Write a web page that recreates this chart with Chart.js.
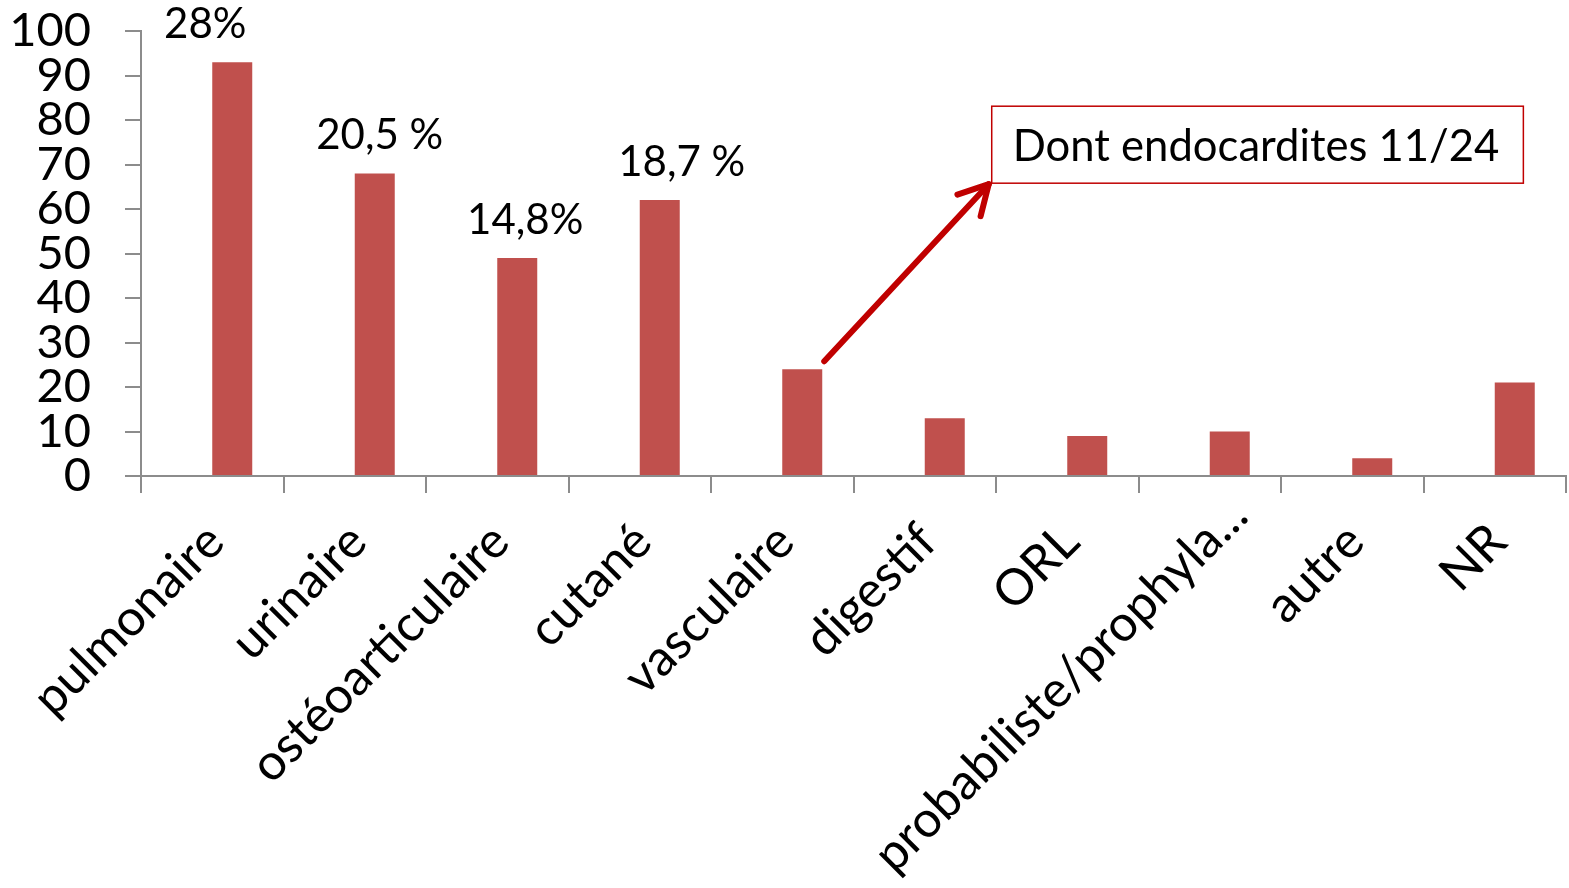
<!DOCTYPE html>
<html>
<head>
<meta charset="utf-8">
<script src="https://cdn.jsdelivr.net/npm/chart.js@4"></script>
<style>
  html, body { margin: 0; padding: 0; background: #fff; }
  #wrap { width: 1569px; height: 888px; }
</style>
</head>
<body>
<div id="wrap"><canvas id="sitesChart"></canvas></div>
<script>
// sites d'infection et effectifs
const sites = ['pulmonaire', 'urinaire', 'ostéoarticulaire', 'cutané', 'vasculaire', 'digestif', 'ORL', 'probabiliste/prophyla...', 'autre', 'NR']
const effectifs = [93, 68, 49, 62, 24, 13, 9, 10, 4, 21]
const pourcentages = ['28%', '20,5 %', '14,8%', '18,7 %', null, null, null, null, null, null]
const calloutText = 'Dont endocardites 11/24'

const FONT = 'Lato, "Open Sans", sans-serif'
const AXIS = '#8c8c8c'
const BAR = '#C0504D'
const ARROW = '#C00000'

// étiquettes de catégories inclinées à 45° (la longue est décalée le long de son axe)
const siteLabels = {
    id: 'siteLabels',
    afterDraw(chart, args, opts) {
        const { ctx, scales: { x } } = chart
        ctx.save()
        ctx.font = opts.size + 'px ' + FONT
        ctx.fillStyle = '#000'
        ctx.textAlign = 'right'
        ctx.textBaseline = 'middle'
        sites.forEach((txt, i) => {
            ctx.save()
            ctx.translate(x.getPixelForTick(i) + opts.dx, x.top + opts.offset)
            ctx.rotate(-Math.PI / 4)
            ctx.fillText(txt, opts.nudge[i] || 0, opts.size * 0.6)
            ctx.restore()
        })
        ctx.restore()
    }
}

// pourcentages au-dessus des barres
const barLabels = {
    id: 'barLabels',
    afterDatasetsDraw(chart, args, opts) {
        const meta = chart.getDatasetMeta(1)
        const ctx = chart.ctx
        ctx.save()
        ctx.font = opts.size + 'px ' + FONT
        ctx.fillStyle = '#000'
        ctx.textAlign = 'center'
        ctx.textBaseline = 'alphabetic'
        pourcentages.forEach((txt, i) => {
            if (!txt) return
            const bar = meta.data[i]
            ctx.fillText(txt, bar.x + opts.shift[i], bar.y - opts.gap)
        })
        ctx.restore()
    }
}

// encadré + flèche depuis la barre vasculaire
const callout = {
    id: 'callout',
    afterDraw(chart, args, opts) {
        const { ctx, scales: { x, y } } = chart
        const bar = chart.getDatasetMeta(1).data[opts.from]
        ctx.save()
        ctx.font = opts.size + 'px ' + FONT
        const w = ctx.measureText(calloutText).width
        const left = x.getPixelForValue(opts.x)
        const bottom = y.getPixelForValue(opts.yBottom)
        const top = y.getPixelForValue(opts.yTop)
        const right = left + w + opts.padL + opts.padR

        ctx.fillStyle = '#fff'
        ctx.fillRect(left, top, right - left, bottom - top)
        ctx.strokeStyle = ARROW
        ctx.lineWidth = 1.5
        ctx.strokeRect(left, top, right - left, bottom - top)

        ctx.fillStyle = '#000'
        ctx.textAlign = 'left'
        ctx.textBaseline = 'middle'
        ctx.fillText(calloutText, left + opts.padL, (top + bottom) / 2 + 2)

        // flèche
        const sx = bar.x + bar.width / 2 + 2, sy = bar.y - 8
        const ex = left - 3, ey = bottom + 1
        const ang = Math.atan2(ey - sy, ex - sx)
        ctx.strokeStyle = ARROW
        ctx.lineWidth = 6
        ctx.lineCap = 'round'
        ctx.lineJoin = 'round'
        ctx.beginPath()
        ctx.moveTo(sx, sy)
        ctx.lineTo(ex, ey)
        ctx.stroke()
        ctx.beginPath()
        ctx.moveTo(ex - 33 * Math.cos(ang - 0.5), ey - 33 * Math.sin(ang - 0.5))
        ctx.lineTo(ex, ey)
        ctx.lineTo(ex - 33 * Math.cos(ang + 0.5), ey - 33 * Math.sin(ang + 0.5))
        ctx.stroke()
        ctx.restore()
    }
}

const renderSitesChart = () => {
    const data = {
        labels: sites,
        datasets: [
            // série vide : la série affichée occupe la deuxième place du groupe
            { data: [], backgroundColor: BAR },
            { data: effectifs, backgroundColor: BAR, borderWidth: 0 }
        ]
    }

    const options = {
        responsive: true,
        maintainAspectRatio: false,
        animation: false,
        layout: { padding: 0 },
        datasets: { bar: { categoryPercentage: 0.5614, barPercentage: 1 } },
        plugins: {
            legend: { display: false },
            tooltip: { enabled: false },
            siteLabels: { size: 50, dx: -18, offset: 36, nudge: [0, 0, 0, 0, 0, 0, 0, 37, 0, 0] },
            barLabels: { size: 42, gap: 24, shift: [-27, 5, 8, 22] },
            callout: { from: 4, x: 5.47, yBottom: 65.8, yTop: 83.1, padL: 21, padR: 24, size: 43.6 }
        },
        scales: {
            x: {
                grid: { offset: true, drawOnChartArea: false, tickLength: 17, color: AXIS, lineWidth: 2 },
                border: { display: true, color: AXIS, width: 2 },
                ticks: { display: false },
                // zone de tracé fixe : les étiquettes inclinées débordent à gauche
                afterFit: (s) => {
                    s.height = 412
                    s.paddingLeft = 0
                    s.paddingRight = 3
                }
            },
            y: {
                min: 0, max: 100,
                grid: { drawOnChartArea: false, tickLength: 16, color: AXIS, lineWidth: 2 },
                border: { display: true, color: AXIS, width: 2 },
                ticks: { stepSize: 10, autoSkip: false, color: '#000', font: { family: FONT, size: 47 }, padding: 34 },
                afterFit: (s) => {
                    s.width = 141
                    s.paddingTop = 31
                    s.paddingBottom = 0
                }
            }
        }
    }

    new Chart('sitesChart', { type: 'bar', data, options, plugins: [siteLabels, barLabels, callout] })
}

renderSitesChart()
</script>
</body>
</html>
